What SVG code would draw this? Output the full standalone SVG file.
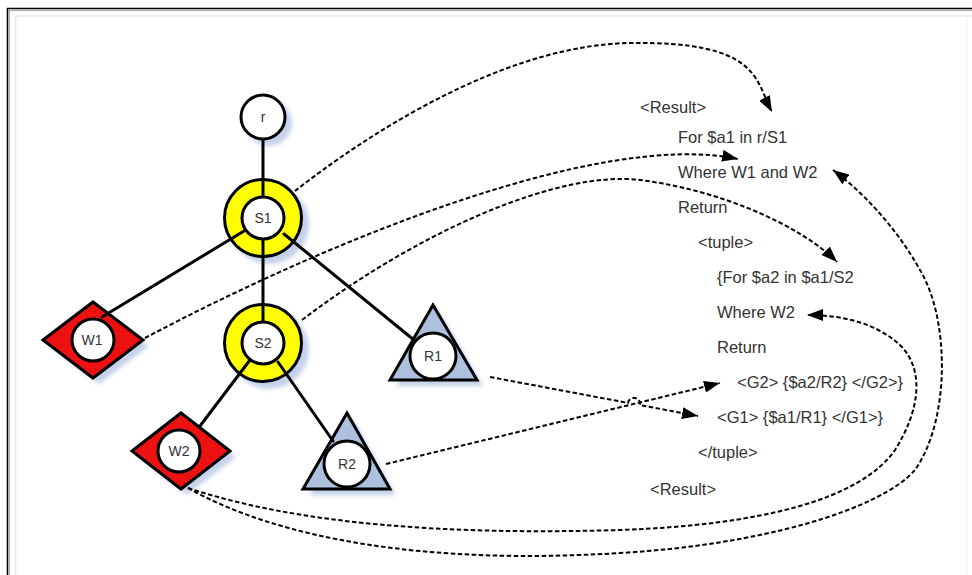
<svg xmlns="http://www.w3.org/2000/svg" width="972" height="575" viewBox="0 0 972 575">
<defs>
<style>
.ln{stroke:#000;stroke-width:3;fill:none;stroke-linecap:round}
.dash{stroke:#000;stroke-width:2;fill:none;stroke-dasharray:4.5 2.5}
.inner{fill:#fff;stroke:#000;stroke-width:3}
.ring{fill:#ffff00;stroke:#000;stroke-width:3}
.dia{fill:#ee1111;stroke:#000;stroke-width:3;stroke-linejoin:miter}
.tri{fill:#adc0de;stroke:#000;stroke-width:3;stroke-linejoin:miter}
.sh{fill:#c4d1ea;filter:url(#blur)}
.lbl{font-family:"Liberation Sans",Arial,sans-serif;font-size:14px;fill:#333;text-anchor:middle}
.q{font-family:"Liberation Sans",Arial,sans-serif;font-size:16.5px;fill:#333}
</style>
<filter id="blur" x="-20%" y="-20%" width="140%" height="140%"><feGaussianBlur stdDeviation="2"/></filter>
<marker id="arr" markerUnits="userSpaceOnUse" markerWidth="17" markerHeight="12" refX="16" refY="6" orient="auto">
<path d="M0,0 L16,6 L0,12 z" fill="#000"/>
</marker>
</defs>
<rect width="972" height="575" fill="#fff"/>
<g id="frame">
<line x1="7" y1="8.5" x2="972" y2="8.5" stroke="#000" stroke-width="1.6"/>
<line x1="7.5" y1="8" x2="7.5" y2="575" stroke="#000" stroke-width="1.6"/>
<line x1="9" y1="10.5" x2="972" y2="10.5" stroke="#aaa" stroke-width="1"/>
<line x1="9.5" y1="10" x2="9.5" y2="575" stroke="#aaa" stroke-width="1"/>
<line x1="15.5" y1="16" x2="972" y2="16" stroke="#e8e8e8" stroke-width="1.5"/>
<line x1="15.5" y1="16" x2="15.5" y2="575" stroke="#e8e8e8" stroke-width="1.5"/>
<line x1="966.5" y1="16" x2="966.5" y2="575" stroke="#f3f3f3" stroke-width="1.5"/>
</g>
<g id="node-r">
<circle class="sh" cx="269" cy="123" r="23"/>
<circle class="inner" cx="263" cy="117" r="22"/>
<text class="lbl" x="263" y="122">r</text>
</g>
<g id="node-S1">
<circle class="sh" cx="269" cy="224" r="40"/>
<circle class="ring" cx="263" cy="218" r="38.5"/>
<circle class="inner" cx="263" cy="218" r="21"/>
<text class="lbl" x="263" y="223">S1</text>
</g>
<g id="node-S2">
<circle class="sh" cx="269" cy="349" r="40"/>
<circle class="ring" cx="263" cy="343" r="38.5"/>
<circle class="inner" cx="263" cy="343" r="21"/>
<text class="lbl" x="263" y="348">S2</text>
</g>
<g id="node-W1">
<polygon class="sh" points="51,346 99,309 149,346 99,384"/>
<polygon class="dia" points="43,340 93,302 143,340 93,378"/>
<circle class="inner" cx="93" cy="340" r="21"/>
<text class="lbl" x="92" y="345">W1</text>
</g>
<g id="node-W2">
<polygon class="sh" points="140,457 187,419 236,457 187,495"/>
<polygon class="dia" points="132,451 181,413 230,451 181,489"/>
<circle class="inner" cx="179" cy="451" r="21"/>
<text class="lbl" x="179" y="456">W2</text>
</g>
<g id="node-R1">
<polygon class="sh" points="439,311 483,386 396,386"/>
<polygon class="tri" points="433,305 477,380 390,380"/>
<circle class="inner" cx="433" cy="356" r="23"/>
<text class="lbl" x="433" y="361">R1</text>
</g>
<g id="node-R2">
<polygon class="sh" points="353,419 396,495 309,495"/>
<polygon class="tri" points="347,413 390,489 303,489"/>
<circle class="inner" cx="347" cy="464" r="23"/>
<text class="lbl" x="347" y="469">R2</text>
</g>
<g id="query">
<text class="q" x="640" y="113">&lt;Result&gt;</text>
<text class="q" x="678" y="143">For $a1 in r/S1</text>
<text class="q" x="678" y="178">Where W1 and W2</text>
<text class="q" x="678" y="213">Return</text>
<text class="q" x="698" y="248">&lt;tuple&gt;</text>
<text class="q" x="717" y="283">{For $a2 in $a1/S2</text>
<text class="q" x="717" y="318">Where W2</text>
<text class="q" x="717" y="353">Return</text>
<text class="q" x="737" y="388">&lt;G2&gt; {$a2/R2} &lt;/G2&gt;}</text>
<text class="q" x="717" y="423">&lt;G1&gt; {$a1/R1} &lt;/G1&gt;}</text>
<text class="q" x="698" y="458">&lt;/tuple&gt;</text>
<text class="q" x="650" y="495">&lt;Result&gt;</text>
</g>
<g id="connectors">
<line class="ln" x1="263" y1="140" x2="263" y2="196"/>
<line class="ln" x1="263" y1="240" x2="263" y2="321"/>
<line class="ln" x1="244" y1="231" x2="102" y2="317"/>
<line class="ln" x1="284" y1="234" x2="414" y2="340"/>
<line class="ln" x1="250" y1="360" x2="200" y2="426"/>
<line class="ln" x1="278" y1="362" x2="333" y2="441"/>
<path class="dash" marker-end="url(#arr)" d="M295,191 C360,140 500,45 630,43 S755,80 772,112"/>
<path class="dash" marker-end="url(#arr)" d="M145,338 C330,240 600,130 738,159"/>
<path class="dash" marker-end="url(#arr)" d="M302,320 C420,230 560,170 640,180 C720,190 800,225 837,262"/>
<path class="dash" marker-end="url(#arr)" d="M188,488 C280,540 430,565 620,553 C760,545 880,510 915,470 C950,420 950,320 920,270 C895,225 860,190 833,170"/>
<path class="dash" marker-end="url(#arr)" d="M188,488 C300,525 450,535 620,530 C760,525 860,500 895,450 C920,410 925,370 900,345 C875,322 840,315 807,315"/>
<path class="dash" marker-end="url(#arr)" d="M490,377 L628,402.9 A6,6 0 0 1 640,405.1 L698,416"/>
<path class="dash" marker-end="url(#arr)" d="M386,464 L720,383"/>
</g>
</svg>
